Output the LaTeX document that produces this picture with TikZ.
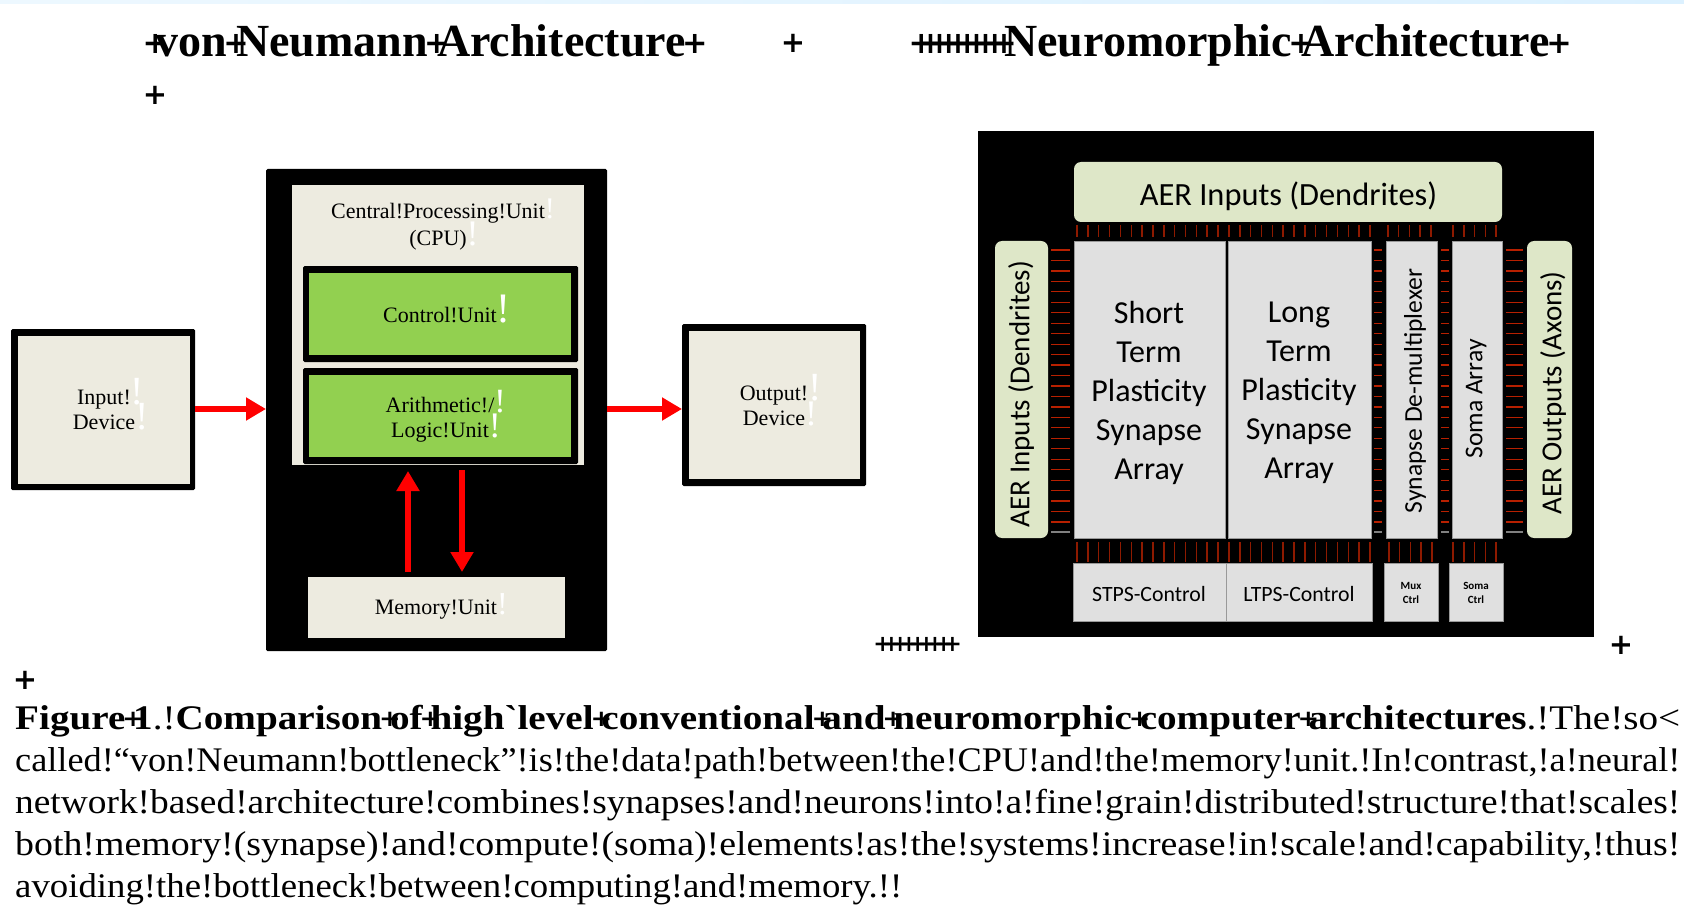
\documentclass[tikz,border=0pt]{standalone}
\usepackage{fontspec}
\usepackage{tikz}
\setmainfont{Liberation Serif}[Ligatures=TeXOff]
\newfontfamily\calibri{Carlito}
\newfontfamily\plusfont[Scale=0.66]{DejaVu Sans}
\usetikzlibrary{arrows.meta,shapes.geometric}

% overlapping plus of the headings
\newcommand{\ovp}[1][0.2em]{\rlap{\hspace{-0.08em}\raisebox{0.07em}{\plusfont\bfseries +}}\hspace{#1}}
% white mark left in the labels
\newcommand{\whitebang}[1]{\smash{\rlap{\textcolor{white}{\fontsize{#1}{#1}\selectfont !}}}}
% caption lines are set to a fixed width
\newcommand{\fitline}[2]{\resizebox{#1}{\height}{#2}}

\definecolor{beigebox}{HTML}{EDEBE0}
\definecolor{greenbox}{HTML}{92D050}
\definecolor{aerbox}{HTML}{DEE7C8}
\definecolor{grayblock}{HTML}{E0E0E0}
\definecolor{ticktop}{HTML}{8E1A00}
\definecolor{tickside}{HTML}{B82000}
\definecolor{arrowred}{HTML}{FF0000}
\definecolor{stripleft}{HTML}{EDF8FF}
\definecolor{stripright}{HTML}{DCF1FF}

\tikzset{
  headingtext/.style={anchor=base west,inner sep=0pt,font=\fontsize{46}{46}\selectfont\bfseries},
  plusmark/.style={inner sep=0pt,font=\fontsize{44}{44}\selectfont\plusfont\bfseries},
  captionline/.style={anchor=base west,inner sep=0pt,font=\fontsize{34.5}{34.5}\selectfont},
  cpulabel/.style={align=center,inner sep=0pt,font=\fontsize{22}{25}\selectfont},
  blackblock/.style={fill=black,rounded corners=1.5pt},
  beigeblock/.style={fill=beigebox},
  greenblock/.style={fill=greenbox},
  aerblock/.style={fill=aerbox,rounded corners=7pt},
  arrayblock/.style={fill=grayblock,draw=gray!80,line width=0.6pt},
  bigred/.style={-{Triangle[length=20pt,width=22pt]},draw=arrowred,line width=6.5pt},
  aerlabel/.style={inner sep=0pt,font=\calibri\fontsize{32.4}{32.4}\selectfont},
  arraylabel/.style={align=center,inner sep=0pt,font=\calibri\fontsize{32}{39}\selectfont},
  sidelabel/.style={inner sep=0pt,rotate=90,font=\calibri\fontsize{29}{29}\selectfont},
  narrowlabel/.style={inner sep=0pt,rotate=90,font=\calibri\fontsize{25.6}{25.6}\selectfont},
  ctrllabel/.style={inner sep=0pt,font=\calibri\fontsize{21.8}{21.8}\selectfont},
  tinylabel/.style={align=center,inner sep=0pt,font=\calibri\fontsize{11}{14}\selectfont\bfseries}
}

\begin{document}
\begin{tikzpicture}[x=1pt,y=-1pt]
  \useasboundingbox (0,0) rectangle (1684,912);
  \fill[white] (0,0) rectangle (1684,912);
  % Strip along the top edge
  \shade[left color=stripleft,right color=stripright] (0,0) rectangle (1684,4);

  % Headings
  \node[headingtext] (vontitle) at (146,57) {\ovp von\ovp Neumann\ovp Architecture\ovp};
  \node[plusmark] (plusa) at (793,43) {+};
  \node[plusmark] (plusb) at (155,95) {+};
  \node[headingtext] (neurotitle) at (912,57) {\ovp\ovp\ovp\ovp\ovp\ovp\ovp\ovp\ovp\ovp Neuromorphic\ovp Architecture\ovp};

  % Left hand picture
  \fill[blackblock] (266,169) rectangle (607,651);
  \fill[beigeblock] (292,185) rectangle (584,465);
  \node[cpulabel,font=\fontsize{22}{27}\selectfont] (cpulabel) at (438,226.5) {Central!Processing!Unit\whitebang{30}\\(CPU)\whitebang{36}};
  \fill[blackblock] (303,266) rectangle (578,362);
  \fill[greenblock] (309,273) rectangle (571,355);
  \node[cpulabel] (ctrllabel) at (440,315) {Control!Unit\whitebang{42}};
  \fill[blackblock] (303,368) rectangle (578,464);
  \fill[greenblock] (309,375) rectangle (571,457);
  \node[cpulabel] (alulabel) at (440,420) {Arithmetic!/\whitebang{34}\\Logic!Unit\whitebang{36}};
  \fill[beigeblock] (307.5,577) rectangle (565,638);
  \node[cpulabel] (memlabel) at (436,610) {Memory!Unit\whitebang{32}};

  \fill[blackblock] (11,329) rectangle (195,490);
  \fill[beigeblock] (18,336) rectangle (190,484);
  \node[cpulabel] (inputlabel) at (104,410) {Input!\whitebang{40}\\Device\whitebang{40}};
  \fill[blackblock] (682,324) rectangle (866,486);
  \fill[beigeblock] (689,331) rectangle (860,479);
  \node[cpulabel] (outputlabel) at (774,405.5) {Output!\whitebang{40}\\Device\whitebang{36}};

  % Red arrows
  \coordinate (inputout) at (195,409);
  \coordinate (cpuin) at (266,409);
  \coordinate (cpuout) at (607,409);
  \coordinate (outputin) at (682,409);
  \coordinate (memup) at (408,572);
  \coordinate (cpuup) at (408,471);
  \coordinate (cpudown) at (462,470);
  \coordinate (memdown) at (462,572);
  \draw[bigred] (inputout) -- (cpuin);
  \draw[bigred] (cpuout) -- (outputin);
  \draw[bigred] (memup) -- (cpuup);
  \draw[bigred] (cpudown) -- (memdown);

  % Right hand picture
  \fill[black] (978,131) rectangle (1594,637);
  \fill[aerblock] (1074,162) rectangle (1502,222);
  \node[aerlabel] (aertop) at (1288.5,196) {AER Inputs (Dendrites)};
  \fill[aerblock] (995,241) rectangle (1048,538);
  \node[sidelabel] (aerleft) at (1021,394) {AER Inputs (Dendrites)};
  \fill[aerblock] (1527,241) rectangle (1572,538);
  \node[sidelabel] (aerright) at (1553,393) {AER Outputs (Axons)};

  \fill[arrayblock] (1074,241) rectangle (1225,538);
  \node[arraylabel] (stparray) at (1149,393) {Short\\Term\\Plasticity\\Synapse\\Array};
  \fill[arrayblock] (1228,241) rectangle (1371,538);
  \node[arraylabel] (ltparray) at (1299,393) {Long\\Term\\Plasticity\\Synapse\\Array};
  \fill[arrayblock] (1386,241) rectangle (1437,538);
  \node[narrowlabel] (demux) at (1415,391) {Synapse De-multiplexer};
  \fill[arrayblock] (1452,241) rectangle (1502,538);
  \node[narrowlabel] (somaarray) at (1476,399) {Soma Array};

  \fill[arrayblock] (1073,563) rectangle (1226,621);
  \node[ctrllabel] (stpsctrl) at (1149,594) {STPS-Control};
  \fill[arrayblock] (1226,563) rectangle (1372,621);
  \node[ctrllabel] (ltpsctrl) at (1299,594) {LTPS-Control};
  \fill[arrayblock] (1384,563) rectangle (1438,621);
  \node[tinylabel] (muxctrl) at (1411,593) {Mux\\Ctrl};
  \fill[arrayblock] (1449,563) rectangle (1503,621);
  \node[tinylabel] (somactrl) at (1476,593) {Soma\\Ctrl};

  % Vertical ticks
  \foreach \i in {0,...,27} {
    \draw[ticktop,line width=1.5pt] ({1077+10.85*\i},225) -- ++(0,12);
    \draw[ticktop,line width=1.5pt] ({1077+10.85*\i},542) -- ++(0,20);
  }
  \foreach \i in {0,...,4} {
    \draw[ticktop,line width=1.5pt] ({1388+10.7*\i},225) -- ++(0,12);
    \draw[ticktop,line width=1.5pt] ({1453+10.8*\i},225) -- ++(0,12);
    \draw[ticktop,line width=1.5pt] ({1389+10.7*\i},542) -- ++(0,20);
    \draw[ticktop,line width=1.5pt] ({1453+10.8*\i},542) -- ++(0,20);
  }
  % Horizontal ticks
  \foreach \xa/\xb in {1051/1070,1374/1382,1441/1449,1506/1523} {
    \foreach \i in {0,...,26}
      \draw[tickside,line width=1.2pt] (\xa,{250+10.46*\i}) -- (\xb,{250+10.46*\i});
    \draw[gray,line width=1.2pt] (\xa,532) -- (\xb,532);
  }

  % Marks under the pictures
  \node[headingtext,font=\fontsize{34}{34}\selectfont\bfseries] (plusrow) at (876,654) {\ovp[8.7pt]\ovp[8.7pt]\ovp[8.7pt]\ovp[8.7pt]\ovp[8.7pt]\ovp[8.7pt]\ovp[8.7pt]\ovp[8.7pt]\ovp};
  \node[plusmark] (plusc) at (1621,645) {+};
  \node[plusmark] (plusd) at (25,680) {+};

  % Caption
  \node[captionline] (capa) at (15,729) {\fitline{1665pt}{\textbf{Figure\ovp 1}.!\textbf{Comparison\ovp of\ovp high`level\ovp conventional\ovp and\ovp neuromorphic\ovp computer\ovp architectures}.!The!so<}};
  \node[captionline] (capb) at (15,771) {\fitline{1665pt}{called!“von!Neumann!bottleneck”!is!the!data!path!between!the!CPU!and!the!memory!unit.!In!contrast,!a!neural!}};
  \node[captionline] (capc) at (15,813) {\fitline{1665pt}{network!based!architecture!combines!synapses!and!neurons!into!a!fine!grain!distributed!structure!that!scales!}};
  \node[captionline] (capd) at (15,855) {\fitline{1665pt}{both!memory!(synapse)!and!compute!(soma)!elements!as!the!systems!increase!in!scale!and!capability,!thus!}};
  \node[captionline] (cape) at (15,897) {\fitline{887pt}{avoiding!the!bottleneck!between!computing!and!memory.!!}};
\end{tikzpicture}
\end{document}
